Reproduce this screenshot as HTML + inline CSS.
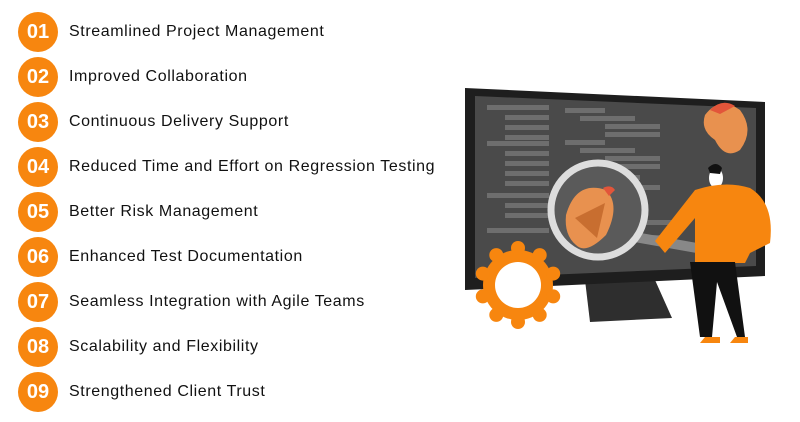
<!DOCTYPE html>
<html><head><meta charset="utf-8"><style>
body{margin:0;width:800px;height:422px;background:#fff;position:relative;overflow:hidden;font-family:"Liberation Sans",sans-serif}
.r{position:absolute;left:18px;height:40px;display:flex;align-items:center}
.c{width:40px;height:40px;border-radius:50%;background:#f7860f;color:#fff;font-weight:bold;font-size:20px;display:flex;align-items:center;justify-content:center}
.t{margin-left:11px;font-size:16px;letter-spacing:0.6px;color:#111}
svg{position:absolute;left:0;top:0}
</style></head><body>
<div class="r" style="top:12px"><div class="c">01</div><div class="t">Streamlined Project Management</div></div>
<div class="r" style="top:57px"><div class="c">02</div><div class="t">Improved Collaboration</div></div>
<div class="r" style="top:102px"><div class="c">03</div><div class="t">Continuous Delivery Support</div></div>
<div class="r" style="top:147px"><div class="c">04</div><div class="t">Reduced Time and Effort on Regression Testing</div></div>
<div class="r" style="top:192px"><div class="c">05</div><div class="t">Better Risk Management</div></div>
<div class="r" style="top:237px"><div class="c">06</div><div class="t">Enhanced Test Documentation</div></div>
<div class="r" style="top:282px"><div class="c">07</div><div class="t">Seamless Integration with Agile Teams</div></div>
<div class="r" style="top:327px"><div class="c">08</div><div class="t">Scalability and Flexibility</div></div>
<div class="r" style="top:372px"><div class="c">09</div><div class="t">Strengthened Client Trust</div></div>
<svg width="800" height="422">
<polygon points="585,280 655,280 672,318 590,322" fill="#2e2e2e"/>
<polygon points="465,88 765,102 765,276 465,290" fill="#1e1e1e"/>
<polygon points="475,96 756,108 756,266 475,278" fill="#4a4a4a"/>
<g fill="#6e6e6e">
<rect x="487" y="105" width="62" height="5"/><rect x="505" y="115" width="44" height="5"/><rect x="505" y="125" width="44" height="5"/><rect x="505" y="135" width="44" height="5"/>
<rect x="487" y="141" width="62" height="5"/><rect x="505" y="151" width="44" height="5"/><rect x="505" y="161" width="44" height="5"/><rect x="505" y="171" width="44" height="5"/><rect x="505" y="181" width="44" height="5"/>
<rect x="487" y="193" width="62" height="5"/><rect x="505" y="203" width="44" height="5"/><rect x="505" y="213" width="44" height="5"/><rect x="487" y="228" width="62" height="5"/>
<rect x="565" y="108" width="40" height="5"/><rect x="580" y="116" width="55" height="5"/><rect x="605" y="124" width="55" height="5"/><rect x="605" y="132" width="55" height="5"/><rect x="565" y="140" width="40" height="5"/><rect x="580" y="148" width="55" height="5"/><rect x="605" y="156" width="55" height="5"/><rect x="605" y="164" width="55" height="5"/><rect x="580" y="175" width="60" height="5"/><rect x="605" y="185" width="55" height="5"/><rect x="620" y="220" width="55" height="5"/><rect x="620" y="235" width="55" height="5"/>
</g>
<g fill="#f7860f" transform="translate(518,285)">
<circle r="35"/>
<g id="lb"><circle cx="0" cy="-37" r="7"/><circle cx="21.7" cy="-29.9" r="7"/><circle cx="35.2" cy="-11.4" r="7"/><circle cx="35.2" cy="11.4" r="7"/><circle cx="21.7" cy="29.9" r="7"/><circle cx="0" cy="37" r="7"/><circle cx="-21.7" cy="29.9" r="7"/><circle cx="-35.2" cy="11.4" r="7"/><circle cx="-35.2" cy="-11.4" r="7"/><circle cx="-21.7" cy="-29.9" r="7"/></g>
<circle r="23" fill="#fff"/>
</g>
<line x1="635" y1="237" x2="742" y2="256" stroke="#888" stroke-width="10" stroke-linecap="round"/>
<circle cx="598" cy="210" r="47" fill="#5a5a5a" stroke="#ddd" stroke-width="7"/>
<path d="M566,215 q10,-35 40,-25 q15,15 0,45 q-20,20 -30,10 q-12,-10 -10,-30z" fill="#e8914f"/>
<path d="M575,218 l30,-15 -8,35z" fill="#c86e30"/>
<path d="M603,188 q8,-4 12,2 l-6,6z" fill="#e2553a"/>
<path d="M705,115 q15,-20 35,-5 q15,20 0,40 q-15,10 -25,-10 q-15,-10 -10,-25z" fill="#e8914f"/>
<path d="M710,110 q12,-12 25,-4 l-15,8z" fill="#e2553a"/>
<ellipse cx="716" cy="178" rx="7" ry="10" fill="#fff"/>
<path d="M708,168 q8,-8 14,0 l-2,6 -10,-1z" fill="#111"/>
<path d="M695,190 q30,-10 55,-2 q25,15 20,55 l-20,10 -5,10 -50,0 0,-45 -30,35 -10,-12 z" fill="#f7860f"/>
<path d="M690,262 l45,0 10,75 -8,0 -20,-55 -5,55 -12,0 z" fill="#111"/>
<polygon points="705,337 720,337 720,343 700,343" fill="#f7860f"/>
<polygon points="735,337 748,337 748,343 730,343" fill="#f7860f"/>
</svg>
</body></html>
